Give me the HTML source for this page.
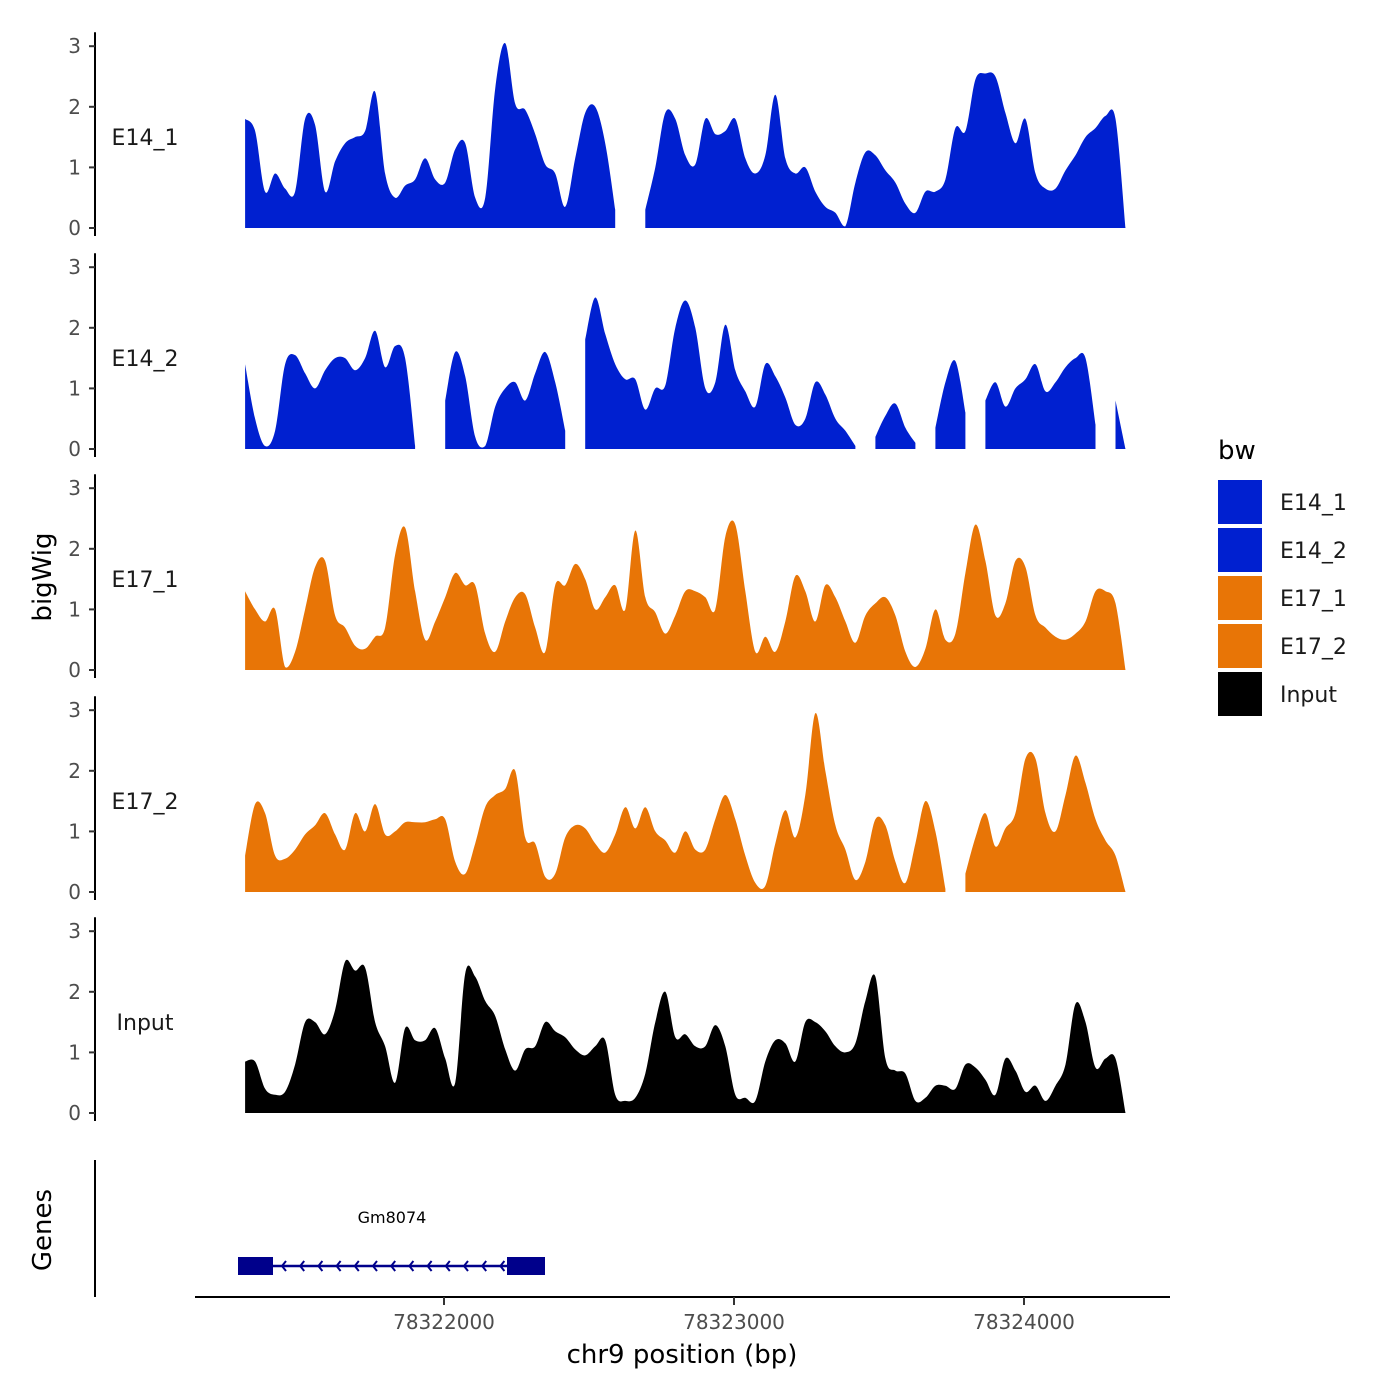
<!DOCTYPE html>
<html><head><meta charset="utf-8"><style>
html,body{margin:0;padding:0;background:#fff;}
svg{display:block;font-family:"DejaVu Sans","Liberation Sans",sans-serif;}
</style></head><body>
<svg id="chart" width="1400" height="1400" viewBox="0 0 1400 1400" xmlns="http://www.w3.org/2000/svg">
<rect width="1400" height="1400" fill="#fff"/>
<g id="panels"></g>
<g id="genes">
  <line x1="95" y1="1160" x2="95" y2="1297" stroke="#000" stroke-width="2"/>
  <text x="51" y="1230" font-size="26" text-anchor="middle" transform="rotate(-90 51 1230)">Genes</text>
  <text x="392" y="1223" font-size="16" text-anchor="middle">Gm8074</text>
  <line x1="238" y1="1266" x2="545" y2="1266" stroke="#00008B" stroke-width="2.5"/>
  <g id="chevrons" stroke="#00008B" stroke-width="2" fill="none"></g>
  <rect x="238" y="1257" width="35" height="18" fill="#00008B"/>
  <rect x="507" y="1257" width="38" height="18" fill="#00008B"/>
</g>
<g id="xaxis">
  <line x1="195" y1="1297" x2="1170" y2="1297" stroke="#000" stroke-width="2"/>
</g>
<text x="682" y="1363" font-size="26" text-anchor="middle">chr9 position (bp)</text>
<text x="51" y="577" font-size="26" text-anchor="middle" transform="rotate(-90 51 577)">bigWig</text>
<g id="legend">
  <text x="1218" y="459" font-size="26">bw</text>
</g>
</svg>
<script>
const trackNames = ["E14_1","E14_2","E17_1","E17_2","Input"];
const trackColors = ["#0020D0","#0020D0","#E87506","#E87506","#000000"];
const binStart = 78321314;
const binSize = 34.5;
const E14_1 = [1.8,1.6,0.6,0.9,0.65,0.6,1.8,1.7,0.6,1.1,1.4,1.5,1.6,2.25,0.9,0.5,0.7,0.8,1.15,0.8,0.75,1.3,1.4,0.5,0.5,2.3,3.05,2.05,1.95,1.55,1.05,0.9,0.35,1.15,1.9,2.0,1.4,0.3,null,null,0.3,1.0,1.9,1.8,1.2,1.05,1.8,1.55,1.6,1.8,1.15,0.9,1.2,2.2,1.15,0.9,1.0,0.6,0.35,0.25,0.03,0.75,1.25,1.2,0.95,0.75,0.4,0.25,0.6,0.6,0.8,1.65,1.6,2.45,2.55,2.5,1.9,1.4,1.8,0.9,0.65,0.65,0.95,1.2,1.5,1.65,1.85,1.8,0];
const E14_2 = [1.4,0.5,0.05,0.3,1.4,1.55,1.25,1.0,1.3,1.5,1.5,1.3,1.5,1.95,1.35,1.7,1.5,0.05,null,null,0.8,1.6,1.2,0.2,0.05,0.7,1.0,1.1,0.8,1.25,1.6,1.1,0.3,null,1.8,2.5,1.9,1.4,1.15,1.15,0.65,1.0,1.05,2.0,2.45,2.0,1.0,1.1,2.05,1.3,0.95,0.7,1.4,1.2,0.85,0.4,0.5,1.1,0.9,0.5,0.3,0.05,null,0.2,0.55,0.75,0.35,0.1,null,0.35,1.1,1.45,0.6,null,0.8,1.1,0.7,1.0,1.15,1.4,0.95,1.1,1.35,1.5,1.5,0.4,null,0.8,0];
const E17_1 = [1.3,1.0,0.8,1.0,0.05,0.3,1.0,1.7,1.8,0.9,0.7,0.4,0.35,0.55,0.7,1.9,2.35,1.3,0.5,0.8,1.2,1.6,1.4,1.4,0.6,0.3,0.8,1.2,1.25,0.7,0.3,1.4,1.4,1.75,1.5,1.0,1.2,1.4,1.0,2.3,1.2,0.95,0.6,0.9,1.3,1.3,1.2,1.0,2.2,2.4,1.3,0.3,0.55,0.3,0.8,1.55,1.3,0.8,1.4,1.2,0.8,0.45,0.9,1.1,1.2,0.9,0.3,0.05,0.35,1.0,0.5,0.6,1.6,2.4,1.8,0.9,1.1,1.8,1.7,0.9,0.7,0.55,0.5,0.6,0.8,1.3,1.3,1.1,0];
const E17_2 = [0.6,1.45,1.3,0.6,0.55,0.7,0.95,1.1,1.3,0.95,0.7,1.3,1.0,1.45,0.95,1.0,1.15,1.15,1.15,1.2,1.2,0.5,0.3,0.8,1.4,1.6,1.7,2.0,0.9,0.8,0.25,0.3,0.9,1.1,1.05,0.8,0.65,0.95,1.4,1.05,1.4,1.0,0.85,0.65,1.0,0.7,0.7,1.2,1.6,1.2,0.6,0.15,0.1,0.8,1.35,0.9,1.6,2.95,2.0,1.1,0.7,0.2,0.5,1.2,1.1,0.5,0.15,0.8,1.5,1.0,0.05,null,0.3,0.9,1.3,0.75,1.05,1.3,2.2,2.2,1.3,1.0,1.6,2.25,1.8,1.2,0.85,0.6,0];
const Input = [0.85,0.85,0.4,0.3,0.35,0.8,1.5,1.5,1.3,1.7,2.5,2.35,2.4,1.5,1.1,0.5,1.4,1.2,1.2,1.4,0.9,0.5,2.3,2.25,1.85,1.6,1.05,0.7,1.05,1.1,1.5,1.35,1.25,1.05,0.95,1.1,1.2,0.3,0.2,0.25,0.65,1.5,2.0,1.25,1.3,1.1,1.1,1.45,1.1,0.3,0.25,0.2,0.85,1.2,1.15,0.85,1.5,1.5,1.35,1.1,1.0,1.15,1.85,2.25,0.9,0.7,0.65,0.2,0.25,0.45,0.45,0.4,0.8,0.75,0.55,0.3,0.9,0.7,0.35,0.45,0.2,0.45,0.8,1.8,1.5,0.75,0.9,0.9,0];
const seriesData = [E14_1,E14_2,E17_1,E17_2,Input];
const yTicks = [0,1,2,3];
const xTicks = [78322000,78323000,78324000];
const legendLabels = ["E14_1","E14_2","E17_1","E17_2","Input"];

const NS = "http://www.w3.org/2000/svg";
function xScale(bp){ return 444 + (bp - 78322000) * 0.29; }
const panelBase = [228,449,670,892,1113];
function yScale(v, p){ return panelBase[p] - v * 60.6; }
function mk(tag, attrs, parent){ const e=document.createElementNS(NS,tag); for(const k in attrs) e.setAttribute(k,attrs[k]); parent.appendChild(e); return e; }

const panels = document.getElementById("panels");
seriesData.forEach((vals, p) => {
  const g = mk("g", {}, panels);
  
  
  const ax = mk("line", {x1:95, y1:panelBase[p]+8, x2:95, y2:yScale(3,p)-14, stroke:"#000", "stroke-width":2}, g);
  
  
  yTicks.forEach(t => {
    const y = yScale(t,p);
    mk("line", {x1:89, y1:y, x2:95, y2:y, stroke:"#333", "stroke-width":2}, g);
    const tx = mk("text", {x:81, y:y+7, "font-size":20, fill:"#4d4d4d", "text-anchor":"end"}, g);
    tx.textContent = t;
    
    
  });
  const lab = mk("text", {x:145, y:yScale(1.5,p)+8, "font-size":22, "text-anchor":"middle", fill:"#1a1a1a"}, g);
  lab.textContent = trackNames[p];
  
  
  let seg = [];
  const segs = [];
  vals.forEach((v,i) => {
    if (v === null) { if (seg.length) segs.push(seg); seg=[]; }
    else seg.push([binStart + i*binSize, v]);
  });
  if (seg.length) segs.push(seg);
  segs.forEach(s => {
    const pts = s.map(pt => [xScale(pt[0]), yScale(pt[1],p)]);
    let d = "M" + pts[0][0].toFixed(1) + "," + panelBase[p] + "L" + pts[0][0].toFixed(1) + "," + pts[0][1].toFixed(1);
    for (let i = 1; i < pts.length; i++) {
      const p0 = pts[Math.max(0,i-2)], p1 = pts[i-1], p2 = pts[i], p3 = pts[Math.min(pts.length-1,i+1)];
      const c1x = p1[0] + (p2[0]-p0[0])/6, c1y = Math.min(panelBase[p], p1[1] + (p2[1]-p0[1])/6);
      const c2x = p2[0] - (p3[0]-p1[0])/6, c2y = Math.min(panelBase[p], p2[1] - (p3[1]-p1[1])/6);
      d += "C" + c1x.toFixed(1) + "," + c1y.toFixed(1) + " " + c2x.toFixed(1) + "," + c2y.toFixed(1) + " " + p2[0].toFixed(1) + "," + p2[1].toFixed(1);
    }
    d += "L" + pts[pts.length-1][0].toFixed(1) + "," + panelBase[p] + "Z";
    const a = mk("path", {d:d, fill:trackColors[p]}, g);
    
    
  });
});

const xa = document.getElementById("xaxis");
xTicks.forEach(t => {
  const x = xScale(t);
  mk("line", {x1:x, y1:1297, x2:x, y2:1305, stroke:"#333", "stroke-width":2}, xa);
  const tx = mk("text", {x:x, y:1329, "font-size":20, fill:"#4d4d4d", "text-anchor":"middle"}, xa);
  tx.textContent = t;
  
  
});

const ch = document.getElementById("chevrons");
for (let x = 282; x < 505; x += 18.2) {
  const c = mk("polyline", {points:(x+4)+",1261 "+x+",1266 "+(x+4)+",1271"}, ch);
  
  
}

const lg = document.getElementById("legend");
legendLabels.forEach((l,i) => {
  const y = 480 + i*48;
  const r = mk("rect", {x:1218, y:y, width:44, height:44, fill:trackColors[i]}, lg);
  
  
  const t = mk("text", {x:1280, y:y+30, "font-size":22, fill:"#1a1a1a"}, lg);
  t.textContent = l;
  
  
});
</script>
</body></html>
